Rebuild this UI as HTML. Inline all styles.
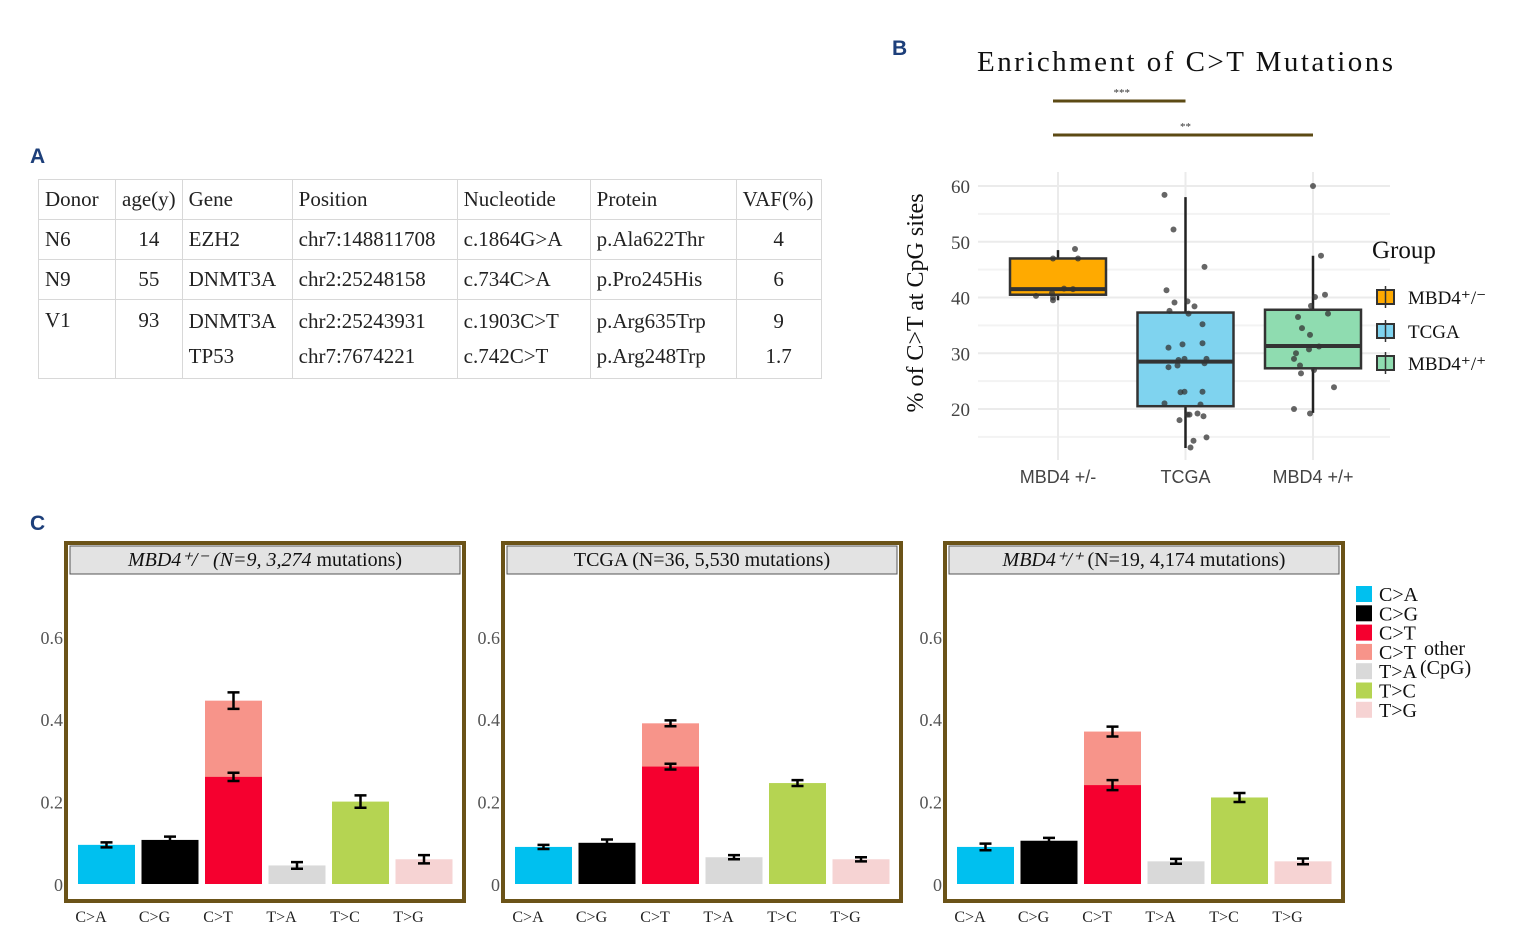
<!DOCTYPE html>
<html><head><meta charset="utf-8"><style>
body{margin:0;background:#fff;}
svg{display:block;font-family:"Liberation Serif",serif;}
.tbl{position:absolute;left:38px;top:179px;border-collapse:collapse;font-family:"Liberation Serif",serif;font-size:21px;color:#222;}
.tbl td{border:1px solid #d8d8d8;padding:0 6px;height:39px;vertical-align:middle;}
</style></head><body>
<div style="position:relative;width:1531px;height:942px;overflow:hidden">
<svg id="s" width="1531" height="942">
<text x="30" y="163" font-family="Liberation Sans" font-weight="bold" font-size="21" fill="#1d3f7a">A</text>
<text x="892" y="55" font-family="Liberation Sans" font-weight="bold" font-size="21" fill="#1d3f7a">B</text>
<text x="30" y="530" font-family="Liberation Sans" font-weight="bold" font-size="21" fill="#1d3f7a">C</text>
<text x="977" y="71" textLength="416" lengthAdjust="spacing" font-size="29" fill="#111">Enrichment of C&gt;T Mutations</text>
<g id="b"></g><g id="c"></g>
</svg>
<table class="tbl">
<tr style="height:40px"><td style="width:64px">Donor</td><td style="width:53px">age(y)</td><td style="width:97px">Gene</td><td style="width:152px">Position</td><td style="width:120px">Nucleotide</td><td style="width:133px">Protein</td><td style="width:72px">VAF(%)</td></tr>
<tr><td>N6</td><td style="text-align:center">14</td><td>EZH2</td><td>chr7:148811708</td><td>c.1864G&gt;A</td><td>p.Ala622Thr</td><td style="text-align:center">4</td></tr>
<tr><td>N9</td><td style="text-align:center">55</td><td>DNMT3A</td><td>chr2:25248158</td><td>c.734C&gt;A</td><td>p.Pro245His</td><td style="text-align:center">6</td></tr>
<tr><td style="vertical-align:top;padding-top:8px">V1</td><td style="text-align:center;vertical-align:top;padding-top:8px">93</td><td style="height:78px;line-height:35px">DNMT3A<br>TP53</td><td style="line-height:35px">chr2:25243931<br>chr7:7674221</td><td style="line-height:35px">c.1903C&gt;T<br>c.742C&gt;T</td><td style="line-height:35px">p.Arg635Trp<br>p.Arg248Trp</td><td style="text-align:center;line-height:35px">9<br>1.7</td></tr>
</table>
</div>
<script>
// ---- Panel B data ----
const groups=["MBD4 +/-","TCGA","MBD4 +/+"];
const q1=[40.5,20.5,27.3], med=[41.5,28.5,31.3], q3=[47,37.3,37.8];
const wlo=[39.5,13,19.3], whi=[48.5,58,47.5];
const pts0=[40.3,40.8,39.5,40.0,41.6,41.5,47,47,48.7];
const pts1=[58.4,52.2,45.5,41.3,39.1,39.3,38.4,37.6,37.1,35.2,31.6,31.8,31,28.8,29,29,27.5,27.8,28.2,23,23.1,23.1,21,20.8,18,19,19,19.2,18.7,14.3,13.1,14.9];
const pts2=[60,47.5,40.5,40.1,38.5,37.1,36.5,34.5,33.3,31.2,30.7,30,29,27.8,27,26.4,23.9,20,19.2];
const yTicksB=[20,30,40,50,60];
// ---- Panel C data ----
const cats=["C>A","C>G","C>T","T>A","T>C","T>G"];
const titlesA=["MBD4⁺/⁻ (N=9, 3,274 ","TCGA (N=36, 5,530 mutations)","MBD4⁺/⁺ "];
const titlesB=["mutations)",""," (N=19, 4,174 mutations)"];
const vals1=[0.095,0.107,0.445,0.045,0.2,0.06], cpg1=0.26;
const vals2=[0.09,0.1,0.39,0.065,0.245,0.06], cpg2=0.285;
const vals3=[0.09,0.105,0.37,0.055,0.21,0.055], cpg3=0.24;
const err1=[0.006,0.008,0.02,0.008,0.015,0.01], err2=[0.005,0.008,0.007,0.005,0.007,0.005], err3=[0.008,0.007,0.012,0.006,0.011,0.007];
const cpgErr=[0.01,0.007,0.012];
const yTicksC=[0,0.2,0.4,0.6];
const colors=["#00c0ef","#000000","#f5002f","#d9d9d9","#b5d452","#f6d3d3"];
const NS="http://www.w3.org/2000/svg";
function mk(p,t,a){const e=document.createElementNS(NS,t);for(const k in a)e.setAttribute(k,a[k]);p.appendChild(e);return e;}
// Panel B
const B=document.getElementById('b');
const yB=v=>409-(v-20)*5.575, xB=i=>1058+i*127.5;
for(let v=15;v<=60;v+=5){const l=mk(B,'line',{x1:978,x2:1390,y1:yB(v),y2:yB(v),stroke:v%10?'#f3f3f3':'#ebebeb','stroke-width':2});
}
groups.forEach((g,i)=>{const l=mk(B,'line',{x1:xB(i),x2:xB(i),y1:172,y2:460,stroke:'#ebebeb','stroke-width':2});
});
yTicksB.forEach(v=>{const t=mk(B,'text',{x:970,y:yB(v)+7,'text-anchor':'end','font-size':19,fill:'#444'});t.textContent=v;
});
const yl=mk(B,'text',{transform:'translate(923,303) rotate(-90)','text-anchor':'middle','font-size':24,fill:'#111'});yl.textContent='% of C>T at CpG sites';

const bcol=["#ffaa00","#7fd3ef","#8fdcb0"];
const allPts=[pts0,pts1,pts2];
const offs=[[-22,-6,-5,-5,6,15,-5,20,17],[-21,-12,19,-19,-11,2,9,-16,3,17,-3,17,-17,-7,-1,21,-17,-8,19,-5,-1,17,-21,15,-6,2,4,12,18,8,5,21],[0,8,12,2,-2,15,-15,-11,-3,6,-4,-17,-19,-13,1,-12,21,-19,-3]];
groups.forEach((g,i)=>{const x=xB(i);
 const w=mk(B,'line',{x1:x,x2:x,y1:yB(whi[i]),y2:yB(wlo[i]),stroke:'#222','stroke-width':2.5});
 
 const r=mk(B,'rect',{x:x-48,width:96,y:yB(q3[i]),height:yB(q1[i])-yB(q3[i]),fill:bcol[i],stroke:'#333','stroke-width':2.5});
 
 const m=mk(B,'line',{x1:x-48,x2:x+48,y1:yB(med[i]),y2:yB(med[i]),stroke:'#333','stroke-width':4});
 
 allPts[i].forEach((v,j)=>{const c=mk(B,'circle',{cx:x+(offs[i][j]||0),cy:yB(v),r:3,fill:'#333','fill-opacity':0.75});
  });
 const t=mk(B,'text',{x:x,y:483,'text-anchor':'middle','font-size':18,fill:'#444','font-family':'Liberation Sans'});t.textContent=g;
 });
[[101,1],[135,2]].forEach(([y,j],k)=>{const l=mk(B,'line',{x1:xB(0)-5,x2:xB(j)+0,y1:y,y2:y,stroke:'#5c4a14','stroke-width':3});
 
 const t=mk(B,'text',{x:(xB(0)+xB(j))/2,y:y-5,'text-anchor':'middle','font-size':11,fill:'#333'});t.textContent=k?'**':'***';
 });
let gt=mk(B,'text',{x:1372,y:258,'font-size':25,fill:'#111'});gt.textContent='Group';

["MBD4⁺/⁻","TCGA","MBD4⁺/⁺"].forEach((n,i)=>{const y=[297,331,363][i];
 const r=mk(B,'rect',{x:1377,y:y-7,width:17,height:14,fill:bcol[i],stroke:'#333','stroke-width':2});
 
 mk(B,'line',{x1:1385.5,x2:1385.5,y1:y-11,y2:y+11,stroke:'#333','stroke-width':1.5});
 const t=mk(B,'text',{x:1408,y:y+7,'font-size':19,fill:'#111'});t.textContent=n;
 });
// Panel C
const C=document.getElementById('c');
const allVals=[vals1,vals2,vals3], allCpg=[cpg1,cpg2,cpg3], allErr=[err1,err2,err3];
const px=[66,503,945];
allVals.forEach((vals,p)=>{const ox=px[p];const yC=v=>884-v*412;
 const f=mk(C,'rect',{x:ox,y:543,width:398,height:358,fill:'#fff',stroke:'#6b5318','stroke-width':4});
 
 const s=mk(C,'rect',{x:ox+4,y:546,width:390,height:28,fill:'#e3e3e3',stroke:'#555','stroke-width':1});
 
 const st=mk(C,'text',{x:ox+199,y:566,'text-anchor':'middle','font-size':20,fill:'#111'});
 const a=mk(st,'tspan',{});a.textContent=titlesA[p];if(p!==1)a.setAttribute('font-style','italic');
 if(titlesB[p]){const b=mk(st,'tspan',{});b.textContent=titlesB[p];}
 
 yTicksC.forEach(v=>{const t=mk(C,'text',{x:ox-3,y:yC(v)+7,'text-anchor':'end','font-size':18,fill:'#555'});t.textContent=v;
  });
 vals.forEach((v,i)=>{const x=ox+12+i*63.5;
  const r=mk(C,'rect',{x:x,y:yC(v),width:57,height:yC(0)-yC(v),fill:i==2?'#f7948a':colors[i]});
  
  const eb=[[v,allErr[p][i]]];
  if(i==2){const r2=mk(C,'rect',{x:x,y:yC(allCpg[p]),width:57,height:yC(0)-yC(allCpg[p]),fill:colors[2]});
   eb.push([allCpg[p],cpgErr[p]]);}
  eb.forEach(([m,e])=>{const cx=x+28.5;
   const g=mk(C,'path',{d:`M${cx-6},${yC(m+e)}H${cx+6}M${cx},${yC(m+e)}V${yC(m-e)}M${cx-6},${yC(m-e)}H${cx+6}`,stroke:'#000','stroke-width':2.5,fill:'none'});
   });
  const t=mk(C,'text',{x:x+13,y:922,'text-anchor':'middle','font-size':16,fill:'#222'});t.textContent=cats[i];
  });
});
const legN=["C>A","C>G","C>T","C>T","T>A","T>C","T>G"];
const legC=["#00c0ef","#000","#f5002f","#f7948a","#d9d9d9","#b5d452","#f6d3d3"];
legN.forEach((n,i)=>{const y=586+i*19.3;
 const r=mk(C,'rect',{x:1356,y:y,width:16,height:16,fill:legC[i]});
 const t=mk(C,'text',{x:1379,y:y+15,'font-size':20,fill:'#111'});t.textContent=n;});
let o=mk(C,'text',{x:1424,y:655,'font-size':20,fill:'#111'});o.textContent='other';
o=mk(C,'text',{x:1420,y:674,'font-size':20,fill:'#111'});o.textContent='(CpG)';
</script>
</body></html>
